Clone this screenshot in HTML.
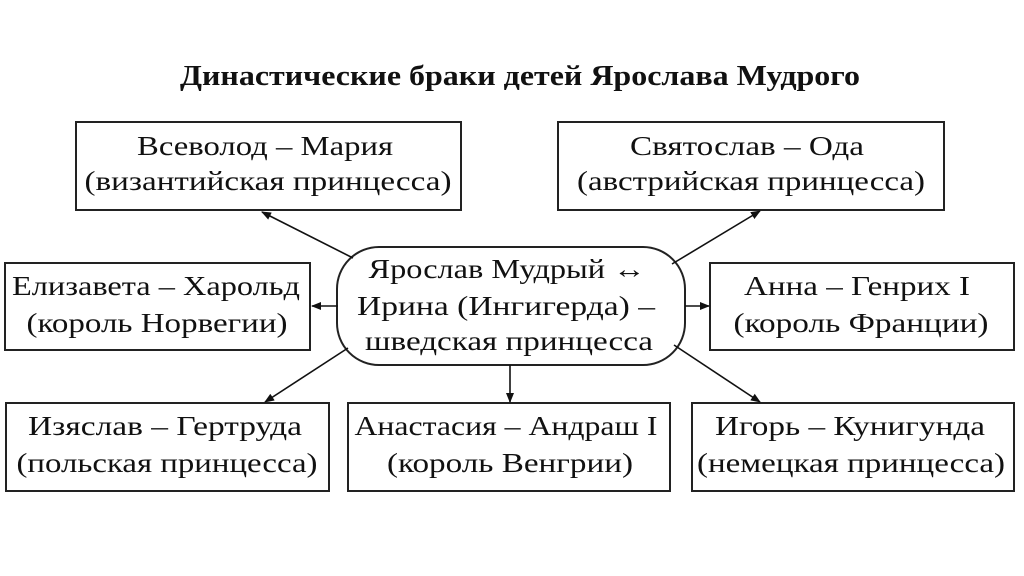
<!DOCTYPE html>
<html><head><meta charset="utf-8"><style>html,body{margin:0;padding:0;background:#fff}svg{display:block}</style></head>
<body>
<svg width="1024" height="576" viewBox="0 0 1024 576" xmlns="http://www.w3.org/2000/svg">
<defs><marker id="a" markerWidth="10" markerHeight="8" refX="9" refY="4" orient="auto" markerUnits="userSpaceOnUse"><path d="M0,0 L10,4 L0,8 z" fill="#111"/></marker></defs>
<text x="520" y="85" text-anchor="middle" font-family="Liberation Serif, serif" font-weight="bold" font-size="28" textLength="680" lengthAdjust="spacingAndGlyphs" fill="#111">Династические браки детей Ярослава Мудрого</text>
<g fill="none" stroke="#222" stroke-width="2">
<rect x="76" y="122" width="385" height="88"/>
<rect x="558" y="122" width="386" height="88"/>
<rect x="5" y="263" width="305" height="87"/>
<rect x="710" y="263" width="304" height="87"/>
<rect x="337" y="247" width="348" height="118" rx="42"/>
<rect x="6" y="403" width="323" height="88"/>
<rect x="348" y="403" width="322" height="88"/>
<rect x="692" y="403" width="322" height="88"/>
</g>
<g stroke="#111" stroke-width="1.6" marker-end="url(#a)">
<line x1="353" y1="258" x2="262" y2="212"/>
<line x1="338" y1="306" x2="312" y2="306"/>
<line x1="348" y1="348" x2="265" y2="402"/>
<line x1="510" y1="365" x2="510" y2="402"/>
<line x1="672" y1="264" x2="760" y2="211"/>
<line x1="685" y1="306" x2="709" y2="306"/>
<line x1="674" y1="345" x2="760" y2="402"/>
</g>
<g font-family="Liberation Serif, serif" font-size="27" fill="#111" text-anchor="middle" lengthAdjust="spacingAndGlyphs">
<text x="265" y="155" textLength="256" lengthAdjust="spacingAndGlyphs">Всеволод – Мария</text>
<text x="268" y="190" textLength="367" lengthAdjust="spacingAndGlyphs">(византийская принцесса)</text>
<text x="747" y="155" textLength="234" lengthAdjust="spacingAndGlyphs">Святослав – Ода</text>
<text x="751" y="190" textLength="348" lengthAdjust="spacingAndGlyphs">(австрийская принцесса)</text>
<text x="156" y="295" textLength="288" lengthAdjust="spacingAndGlyphs">Елизавета – Харольд</text>
<text x="157" y="332" textLength="261" lengthAdjust="spacingAndGlyphs">(король Норвегии)</text>
<text x="857" y="295" textLength="226" lengthAdjust="spacingAndGlyphs">Анна – Генрих I</text>
<text x="861" y="332" textLength="255" lengthAdjust="spacingAndGlyphs">(король Франции)</text>
<text x="507" y="278" textLength="277" lengthAdjust="spacingAndGlyphs">Ярослав Мудрый ↔</text>
<text x="506" y="315" textLength="298" lengthAdjust="spacingAndGlyphs">Ирина (Ингигерда) –</text>
<text x="509" y="350" textLength="288" lengthAdjust="spacingAndGlyphs">шведская принцесса</text>
<text x="165" y="435" textLength="274" lengthAdjust="spacingAndGlyphs">Изяслав – Гертруда</text>
<text x="167" y="472" textLength="301" lengthAdjust="spacingAndGlyphs">(польская принцесса)</text>
<text x="506" y="435" textLength="303" lengthAdjust="spacingAndGlyphs">Анастасия – Андраш I</text>
<text x="510" y="472" textLength="246" lengthAdjust="spacingAndGlyphs">(король Венгрии)</text>
<text x="850" y="435" textLength="270" lengthAdjust="spacingAndGlyphs">Игорь – Кунигунда</text>
<text x="851" y="472" textLength="308" lengthAdjust="spacingAndGlyphs">(немецкая принцесса)</text>
</g>
</svg>
</body></html>
